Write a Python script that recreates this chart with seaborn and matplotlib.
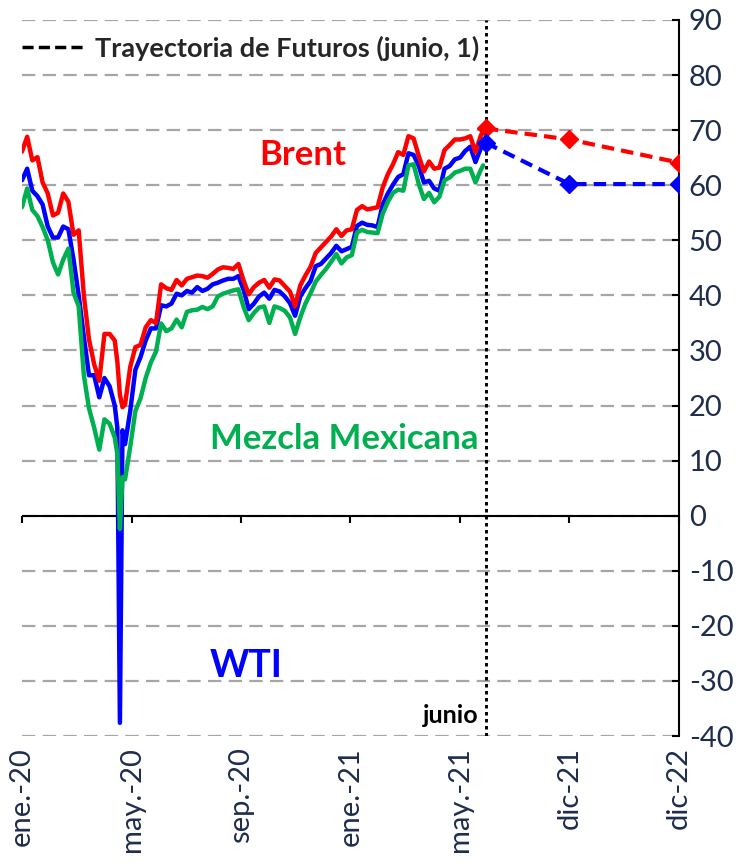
import matplotlib
matplotlib.use("Agg")
import matplotlib.pyplot as plt
from matplotlib.lines import Line2D
import seaborn as sns
import pandas as pd

# dias habiles desde el 2 de enero de 2020 (cada ~4 dias)
dias = [0, 4, 8, 12, 16, 20, 24, 28, 32, 36, 40, 44, 48, 52, 56, 60, 64, 68, 72, 74, 76, 78,
        80, 84, 88, 92, 96, 100, 104, 108, 112, 116, 120, 124, 128, 132, 136, 140, 144, 148,
        152, 156, 160, 164, 168, 172, 176, 180, 184, 188, 192, 196, 200, 204, 208, 212, 216,
        220, 224, 228, 232, 236, 240, 244, 248, 252, 256, 260, 264, 268, 272, 276, 280, 284,
        288, 292, 296, 300, 304, 308, 312, 316, 320, 324, 328, 332, 336, 340, 344, 348, 352,
        356, 358]

brent = [66.1, 68.8, 64.5, 65.1, 60.5, 58.5, 54.5, 55.0, 58.5, 57.0, 51.0, 51.8, 40.0, 32.0,
         27.5, 24.5, 33.0, 33.0, 31.8, 28.0, 22.0, 19.7, 20.2, 27.0, 30.6, 31.0, 34.2, 35.5,
         35.0, 42.0, 41.3, 41.0, 42.8, 41.8, 43.0, 43.3, 43.6, 43.5, 43.2, 43.9, 44.7, 45.1,
         45.0, 44.8, 45.7, 42.7, 40.2, 41.5, 42.3, 42.8, 41.4, 42.9, 42.7, 41.7, 40.7, 38.0,
         41.8, 43.6, 45.2, 47.7, 48.7, 49.7, 50.7, 52.0, 50.8, 51.8, 52.0, 55.5, 56.2, 55.6,
         55.8, 56.0, 59.6, 62.0, 63.8, 66.0, 65.5, 68.9, 68.5, 65.3, 62.5, 64.3, 63.0, 63.2,
         66.4, 67.3, 68.3, 68.3, 68.5, 68.9, 66.0, 68.9, 70.0]

wti = [60.9, 63.0, 59.0, 58.0, 56.5, 52.5, 50.5, 50.5, 52.5, 52.0, 46.5, 40.0, 32.5, 25.5,
       25.5, 21.5, 25.0, 23.5, 20.0, 16.0, -37.6, 15.5, 13.0, 19.0, 26.5, 28.8, 31.8, 34.0,
       34.0, 38.2, 38.0, 38.5, 40.3, 40.0, 40.8, 40.5, 41.5, 40.8, 41.2, 42.0, 42.3, 42.7,
       43.0, 43.0, 43.5, 41.0, 37.5, 38.5, 39.8, 40.5, 39.4, 41.0, 40.7, 39.8, 38.6, 36.3,
       39.8, 41.3, 42.6, 45.3, 45.7, 46.7, 47.7, 49.0, 48.0, 48.4, 48.8, 52.6, 53.2, 52.8,
       52.7, 52.4, 56.5, 58.5, 60.1, 61.5, 62.0, 65.8, 65.5, 63.5, 60.5, 60.8, 59.4, 59.0,
       63.0, 63.5, 64.7, 65.0, 66.2, 67.0, 64.2, 66.6, 67.7]

mezcla = [56.0, 59.4, 55.5, 54.4, 52.4, 50.0, 46.0, 43.8, 46.5, 48.5, 40.5, 38.0, 25.5, 19.5,
          16.0, 12.0, 17.5, 16.7, 14.2, 11.2, -2.4, 7.0, 6.6, 12.5, 19.0, 21.3, 25.0, 27.8,
          29.8, 34.9, 33.5, 34.0, 35.6, 34.2, 37.0, 37.3, 37.4, 37.9, 37.5, 38.0, 39.8, 40.3,
          40.6, 40.9, 41.1, 37.9, 35.5, 36.8, 37.8, 38.0, 35.0, 38.0, 37.7, 37.2, 36.0, 33.0,
          36.0, 38.5, 40.4, 42.5, 43.7, 44.8, 46.1, 47.5, 45.8, 46.9, 47.3, 51.4, 51.9, 51.5,
          51.4, 51.3, 54.8, 57.0, 58.6, 59.2, 59.0, 63.6, 63.8, 60.2, 57.5, 58.6, 56.9, 57.9,
          60.9, 61.4, 62.3, 62.6, 63.0, 63.0, 60.5, 62.7, 63.6]

# futuros al 1 de junio de 2021
fut_dias = [360, 425, 510]
brent_fut = [70.3, 68.3, 64.1]
wti_fut = [67.7, 60.2, 60.2]

tick_pos = [0, 85, 170, 255, 340, 425, 510]
tick_lab = ["ene.-20", "may.-20", "sep.-20", "ene.-21", "may.-21", "dic-21", "dic-22"]

rojo, azul, verde = "#FF0000", "#0000FF", "#00B050"
navy = "#1F2D4D"

df = pd.DataFrame({
    "dia": dias * 3,
    "valor": wti + mezcla + brent,
    "serie": ["WTI"] * len(dias) + ["Mezcla"] * len(dias) + ["Brent"] * len(dias),
})

sns.set_theme(style="white")
plt.rcParams["font.family"] = ["Lato", "DejaVu Sans"]
plt.rcParams["axes.unicode_minus"] = False

fig = plt.figure(figsize=(7.51, 8.64), dpi=100)
ax = fig.add_axes([0.0293, 0.1481, 0.8748, 0.8288])

ax.axhline(0, color="black", lw=1.5, zorder=1.5)

sns.lineplot(data=df, x="dia", y="valor", hue="serie",
             palette={"WTI": azul, "Mezcla": verde, "Brent": rojo},
             linewidth=3.2, legend=False, ax=ax, sort=False, zorder=3)

ax.plot(fut_dias, brent_fut, color=rojo, ls=(0, (3, 1.7)), lw=3, marker="D", ms=9, zorder=3)
ax.plot(fut_dias, wti_fut, color=azul, ls=(0, (3, 1.7)), lw=3, marker="D", ms=9, zorder=3)

ax.axvline(360, color="black", ls=(0, (1.2, 1.2)), lw=2.1, zorder=2)

ax.set_xlim(0, 510)
ax.set_ylim(-40, 90)
ax.set_yticks(range(-40, 91, 10))
ax.yaxis.grid(True, color="#A6A6A6", lw=1.6, ls=(0, (6, 3.3)))
ax.xaxis.grid(False)

for s in ["left", "top", "bottom"]:
    ax.spines[s].set_visible(False)
ax.spines["right"].set_color("black")
ax.spines["right"].set_linewidth(1.5)
ax.yaxis.tick_right()
ax.tick_params(axis="y", direction="in", length=5, width=1.5, color="black",
               labelsize=21, labelcolor=navy, pad=7, right=True, left=False)

ax.set_xticks(tick_pos)
ax.set_xticklabels(tick_lab, rotation=90, va="top", ha="center")
ax.tick_params(axis="x", length=0, labelsize=21, labelcolor=navy, pad=8)
ax.set_xlabel("")
ax.set_ylabel("")

# marcas del eje en cero
cero = ax.secondary_xaxis(40 / 130)
cero.set_xticks(tick_pos)
cero.set_xticklabels([])
cero.spines["bottom"].set_visible(False)
cero.tick_params(axis="x", direction="out", length=5, width=1.5, color="black")

ax.text(218, 65.5, "Brent", color=rojo, fontsize=25, fontweight="bold",
        ha="center", va="center")
ax.text(354, 14, "Mezcla Mexicana", color=verde, fontsize=25, fontweight="bold",
        ha="right", va="center")
ax.text(174, -27.3, "WTI", color=azul, fontsize=27, fontweight="bold",
        ha="center", va="center")
ax.text(354, -36.3, "junio", color="black", fontsize=18, fontweight="bold",
        ha="right", va="center")

handle = Line2D([], [], color="black", ls=(0, (3.2, 1.5)), lw=2.5)
ax.legend([handle], ["Trayectoria de Futuros (junio, 1)"], loc="upper left",
          bbox_to_anchor=(0.0, 0.978), frameon=False, borderpad=0, borderaxespad=0,
          handlelength=2.4, handletextpad=0.3,
          prop={"weight": "bold", "size": 19.5})

fig.savefig("out.png", dpi=100)
